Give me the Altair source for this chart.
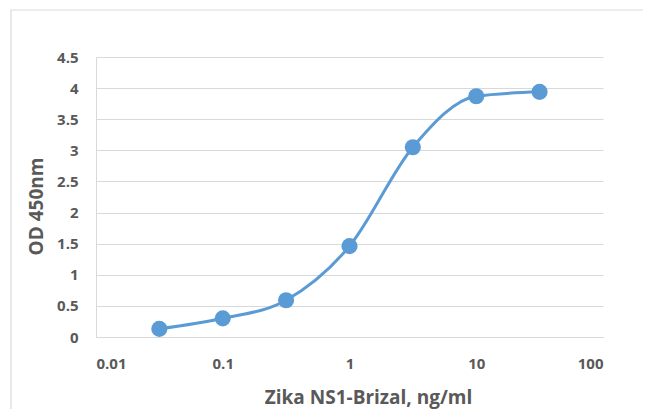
import altair as alt
import pandas as pd

conc = [0.0316, 0.1, 0.316, 1, 3.16, 10, 31.6]
od = [0.13, 0.30, 0.59, 1.46, 3.05, 3.87, 3.94]
x_ticks = [0.01, 0.1, 1, 10, 100]
y_ticks = [0, 0.5, 1, 1.5, 2, 2.5, 3, 3.5, 4, 4.5]

df = pd.DataFrame({"conc": conc, "od": od})

FONT = "Open Sans"
GREY = "#595959"
BLUE = "#5B9BD5"

x = alt.X("conc:Q", scale=alt.Scale(type="log", domain=[0.01, 100]),
          axis=alt.Axis(values=x_ticks, format="~g", grid=False, ticks=False,
                        domainColor="#D9D9D9", labelPadding=31, labelBaseline="alphabetic",
                        labelFont=FONT, labelFontSize=15, labelFontWeight="bold", labelColor=GREY,
                        title="Zika NS1-Brizal, ng/ml", titleFont=FONT, titleFontSize=19,
                        titleFontWeight="bold", titleColor=GREY,
                        titleX=272, titleY=66, titleBaseline="alphabetic", titleAlign="center"))
y = alt.Y("od:Q", scale=alt.Scale(domain=[0, 4.5], nice=False),
          axis=alt.Axis(values=y_ticks, format="~g", grid=True, gridColor="#D9D9D9", ticks=False,
                        domainColor="#D9D9D9", labelPadding=18,
                        labelFont=FONT, labelFontSize=15, labelFontWeight="bold", labelColor=GREY,
                        title="OD 450nm", titleFont=FONT, titleFontSize=19,
                        titleFontWeight="bold", titleColor=GREY,
                        titleX=-54, titleY=149, titleBaseline="alphabetic", titleAlign="center",
                        titleAngle=270))

border = alt.Chart(df).mark_rect(fill=None, stroke="#D9D9D9", strokeWidth=1.2).encode(
    x=alt.value(-85), x2=alt.value(600), y=alt.value(-47), y2=alt.value(400)
).transform_filter("datum.conc == 1")

line = alt.Chart(df).mark_line(color=BLUE, strokeWidth=3, interpolate="monotone").encode(x=x, y=y)
pts = alt.Chart(df).mark_circle(color=BLUE, opacity=1, size=260).encode(x=x, y=y)

chart = alt.layer(border, line, pts).properties(
    width=507, height=280,
    autosize=alt.AutoSizeParams(type="none"),
    padding={"left": 88, "top": 49, "right": 40, "bottom": 72},
    background="white",
).configure_view(stroke=None)

chart.save("out.html", embed_options={"renderer": "svg", "actions": False})
